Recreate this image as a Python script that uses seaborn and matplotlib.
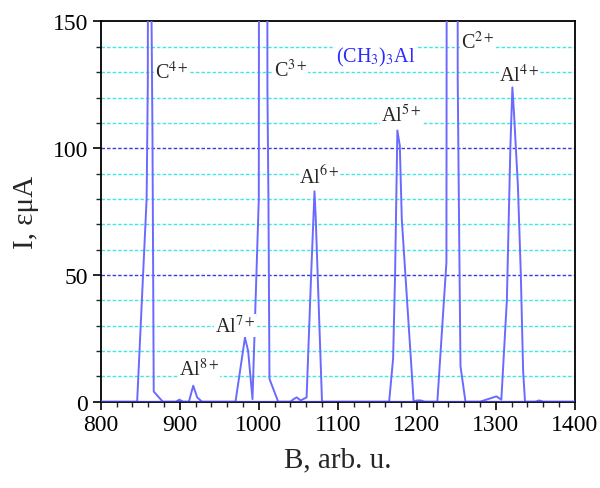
import matplotlib
matplotlib.use('Agg')
import matplotlib.pyplot as plt
from matplotlib.ticker import MultipleLocator
import seaborn as sns

# field B (arb. u.) and current I (eps uA)
b_values = [800, 846, 858, 859.5, 860.5, 863.5, 864, 865.4, 867, 878.5,
            895, 899.5, 904, 911.5, 917, 922, 928,
            970.5, 982.5, 986.5, 992, 1000, 1000.8, 1010.5, 1010.9, 1012.2, 1013.5, 1024.5,
            1040, 1044, 1048, 1053, 1060.5, 1066, 1070.5, 1072, 1080,
            1165, 1170, 1172.5, 1175.4, 1178.5, 1181, 1196, 1200, 1205, 1210,
            1226, 1237.5, 1238.5, 1251.5, 1251.8, 1253.6, 1255.3, 1261.6,
            1280, 1300.8, 1307, 1314, 1318.5, 1321, 1323, 1328, 1331.6, 1334.6, 1337,
            1350, 1355, 1360, 1400]
i_values = [0, 0, 80, 125, 400, 400, 160, 106, 4, 0,
            0, 0.8, 0, 0, 6.3, 1.7, 0,
            0, 25.3, 20, 1, 80, 400, 400, 124, 80, 9, 0,
            0, 1, 1.7, 0.5, 1.7, 48, 83, 73, 0,
            0, 17, 50, 107, 101, 72, 0, 0.5, 0.5, 0,
            0, 55, 400, 400, 127, 67, 14, 0,
            0, 2.1, 0.8, 40, 101, 124, 114, 85, 51, 12, 0,
            0, 0.5, 0, 0]

# peak labels and where they sit
peak_labels = ['C$^{4+}$', 'C$^{3+}$', 'C$^{2+}$', 'Al$^{4+}$', 'Al$^{5+}$',
               'Al$^{6+}$', 'Al$^{7+}$', 'Al$^{8+}$']
label_b = [890, 1040, 1277, 1330, 1180, 1077, 970, 925]
label_i = [130, 131, 142, 129, 113, 89, 30, 13]

sns.set_style('ticks')
plt.rcParams['font.family'] = ['Liberation Serif', 'DejaVu Serif']
plt.rcParams['mathtext.fontset'] = 'stix'

fig = plt.figure(figsize=(6, 4.89), dpi=100)
ax = fig.add_axes([0.168, 0.1765, 0.79, 0.7775])

# horizontal grid: cyan every 10, blue at 50 / 100
for yv in range(10, 150, 10):
    if yv % 50 == 0:
        ax.axhline(yv, color='#3a3ad8', lw=1.0, ls=(0, (2.5, 1.5)), zorder=0)
    else:
        ax.axhline(yv, color='#3fe6e6', lw=1.0, ls=(0, (2.5, 1.5)), zorder=0)

sns.lineplot(x=b_values, y=i_values, estimator=None, color='#6a6aff',
             lw=1.4, ax=ax, zorder=3)
ax.axhline(0, color='#3535c0', lw=1.6, zorder=4)

for lab, xb, yi in zip(peak_labels, label_b, label_i):
    ax.text(xb, yi, lab, fontsize=14.5, ha='center', va='center', zorder=5,
            bbox=dict(facecolor='white', edgecolor='none', pad=0.5))
ax.text(1148, 136, '(CH$_3$)$_3$Al', fontsize=14.5, color='#2a2aff',
        ha='center', va='center', zorder=5,
        bbox=dict(facecolor='white', edgecolor='none', pad=0.5))

ax.set_xlim(800, 1400)
ax.set_ylim(0, 150)
ax.xaxis.set_major_locator(MultipleLocator(100))
ax.xaxis.set_minor_locator(MultipleLocator(20))
ax.yaxis.set_major_locator(MultipleLocator(50))
ax.yaxis.set_minor_locator(MultipleLocator(10))
ax.tick_params(which='major', direction='out', length=6, width=1.2,
               labelsize=17, colors='black', pad=3)
ax.tick_params(which='minor', direction='out', length=3.5, width=1.0)
ax.tick_params(top=False, right=False, which='both')

for side in ['left', 'bottom', 'top', 'right']:
    ax.spines[side].set_visible(True)
    ax.spines[side].set_color('black')
    ax.spines[side].set_linewidth(1.3)

ax.set_xlabel('B, arb. u.', fontsize=21, labelpad=8)
ax.set_ylabel('I, εμA', fontsize=21, labelpad=10)

fig.savefig('out.png', dpi=100)
